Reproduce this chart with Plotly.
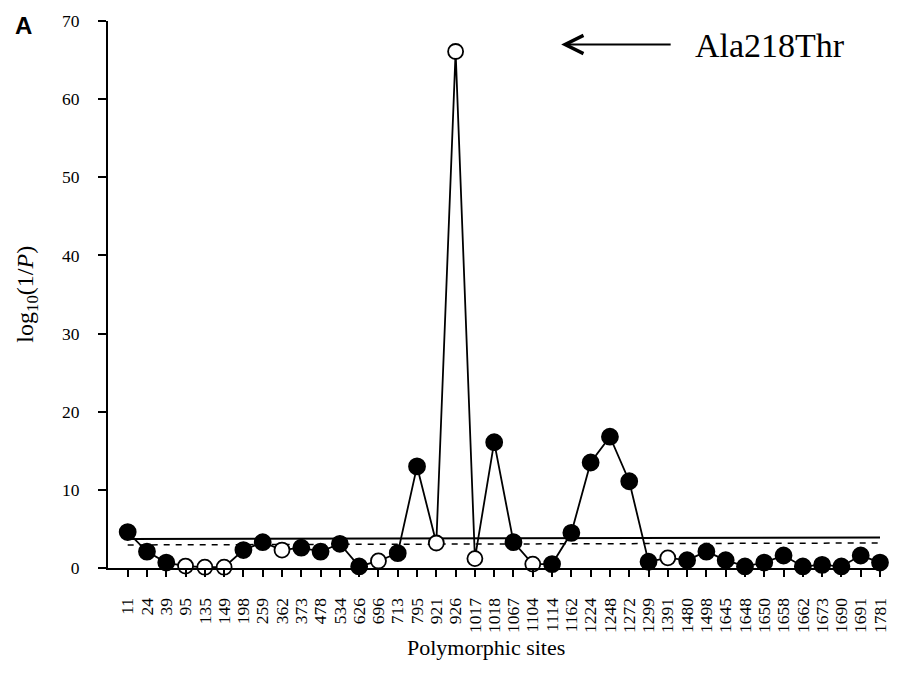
import plotly.graph_objects as go

sites = ["11", "24", "39", "95", "135", "149", "198", "259", "362", "373", "478", "534",
         "626", "696", "713", "795", "921", "926", "1017", "1018", "1067", "1104", "1114",
         "1162", "1224", "1248", "1272", "1299", "1391", "1480", "1498", "1645", "1648",
         "1650", "1658", "1662", "1673", "1690", "1691", "1781"]
log_inv_p = [4.6, 2.1, 0.7, 0.25, 0.1, 0.1, 2.3, 3.3, 2.3, 2.6, 2.1, 3.1,
             0.2, 0.9, 1.9, 13.0, 3.2, 66.1, 1.2, 16.1, 3.3, 0.5, 0.5,
             4.5, 13.5, 16.8, 11.1, 0.8, 1.3, 1.0, 2.1, 1.0, 0.2,
             0.7, 1.6, 0.2, 0.4, 0.2, 1.6, 0.7]
filled = [1, 1, 1, 0, 0, 0, 1, 1, 0, 1, 1, 1,
          1, 0, 1, 1, 0, 0, 0, 1, 1, 0, 1,
          1, 1, 1, 1, 1, 0, 1, 1, 1, 1,
          1, 1, 1, 1, 1, 1, 1]
solid_threshold = [3.7, 3.9]
dashed_threshold = [2.95, 3.2]
y_ticks = [0, 10, 20, 30, 40, 50, 60, 70]

xs = list(range(len(sites)))
serif = "Liberation Serif, Times New Roman, serif"

fig = go.Figure()
fig.add_trace(go.Scatter(x=[xs[0], xs[-1]], y=solid_threshold, mode="lines",
                         line=dict(color="black", width=2), hoverinfo="skip"))
fig.add_trace(go.Scatter(x=[xs[0], xs[-1]], y=dashed_threshold, mode="lines",
                         line=dict(color="black", width=1.5, dash="6px,6px"), hoverinfo="skip"))
fig.add_trace(go.Scatter(
    x=xs, y=log_inv_p, mode="lines+markers",
    line=dict(color="black", width=1.8),
    marker=dict(size=[16 if f else 15 for f in filled],
                color=["black" if f else "white" for f in filled],
                opacity=1,
                line=dict(color="black", width=1.8)),
    opacity=1,
    cliponaxis=False,
))

fig.update_layout(
    width=901, height=688,
    margin=dict(l=108, r=11, t=15, b=120),
    plot_bgcolor="white", paper_bgcolor="white",
    showlegend=False,
    font=dict(family=serif, color="black", size=17),
    xaxis=dict(
        range=[-1.02, 39.0],
        tickmode="array", tickvals=xs, ticktext=sites,
        tickangle=-90, ticks="outside", ticklen=7, tickwidth=1.5, tickcolor="black",
        showline=True, linecolor="black", linewidth=2,
        showgrid=False, zeroline=False,
        tickfont=dict(family=serif, size=17.5, color="black"),
        ticklabelstandoff=14,
    ),
    yaxis=dict(
        range=[0, 70],
        tickmode="array", tickvals=y_ticks,
        ticks="outside", ticklen=8, tickwidth=1.5, tickcolor="black",
        showline=True, linecolor="black", linewidth=2,
        showgrid=False, zeroline=False,
        tickfont=dict(family=serif, size=17.5, color="black"),
        ticklabelstandoff=15,
    ),
    annotations=[
        dict(text="<b>A</b>", xref="paper", yref="paper", x=-0.110, y=0.992,
             xanchor="center", yanchor="middle", showarrow=False,
             font=dict(family="Liberation Sans, Arial, sans-serif", size=24, color="black")),
        dict(text="log<sub>10</sub>(1/<i>P</i>)", xref="paper", yref="paper",
             x=-0.106, y=0.50, xanchor="center", yanchor="middle", textangle=-90,
             showarrow=False, font=dict(family=serif, size=24, color="black")),
        dict(text="Polymorphic sites", xref="paper", yref="paper",
             x=0.490, y=-0.145, xanchor="center", yanchor="middle",
             showarrow=False, font=dict(family=serif, size=22, color="black")),
        dict(text="Ala218Thr", xref="paper", yref="paper",
             x=0.857, y=0.955, xanchor="center", yanchor="middle",
             showarrow=False, font=dict(family=serif, size=34, color="black")),
        dict(text="", xref="paper", yref="paper", x=0.587, y=0.957,
             ax=111, ay=0, showarrow=True, arrowhead=5, arrowsize=1.8,
             arrowwidth=2, arrowcolor="black", standoff=0),
    ],
)

fig.write_html("out.html")
